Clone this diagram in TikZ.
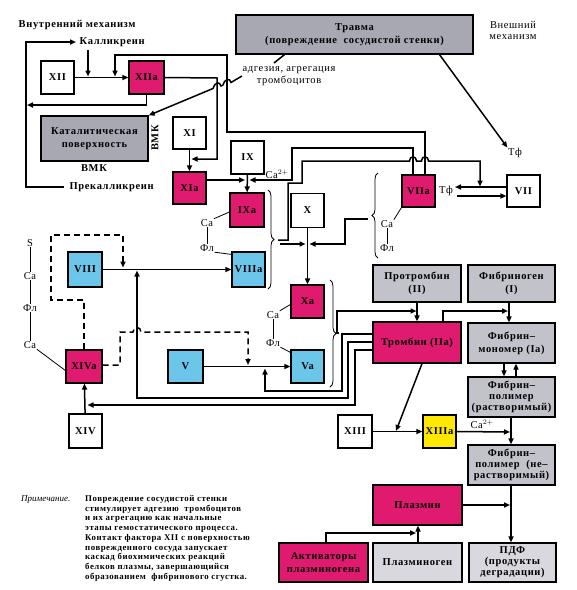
\documentclass[tikz,border=0pt]{standalone}
\usepackage{fontspec}
\setmainfont{Liberation Serif}
\newfontfamily\spaced[LetterSpace=6]{Liberation Serif}
\usetikzlibrary{arrows.meta,decorations.pathreplacing}
\definecolor{mag}{RGB}{224,26,110}
\definecolor{blu}{RGB}{108,198,234}
\definecolor{gry}{RGB}{168,168,178}
\definecolor{lgry}{RGB}{194,194,202}
\definecolor{vlgry}{RGB}{216,216,222}
\definecolor{yel}{RGB}{255,232,0}
\tikzset{
  box/.style={draw, line width=1.2pt, inner sep=1pt, align=center,
    font=\spaced\bfseries\fontsize{10.5}{11}\selectfont},
  sq/.style={box, minimum width=33pt, minimum height=33pt},
  conn/.style={line width=1.5pt},
  arr/.style={conn, -{Triangle[length=6pt,width=5pt]}},
  dsh/.style={conn, dash pattern=on 6pt off 4pt},
  darr/.style={dsh, -{Triangle[length=6pt,width=5pt]}},
  lbl/.style={font=\spaced\fontsize{10.5}{11}\selectfont, inner sep=0.5pt},
  blbl/.style={font=\spaced\bfseries\fontsize{10.5}{12}\selectfont, inner sep=0.5pt, align=center},
  leader/.style={line width=0.8pt},
  brc/.style={line width=0.8pt, decorate, decoration={brace, amplitude=6pt}}
}
\begin{document}
\begin{tikzpicture}[x=1pt,y=-1pt]
\useasboundingbox (0,0) rectangle (577,590);

% ---------- boxes ----------
\node[sq] (xii) at (57.5,77.5) {XII};
\node[sq,fill=mag,minimum width=35pt] (xiia) at (146.5,77.5) {XIIa};
\node[box,fill=gry,minimum width=107pt,minimum height=45pt,font=\spaced\bfseries\fontsize{10.5}{13}\selectfont] (cat) at (94.5,138.5) {Каталитическая\\поверхность};
\node[sq,minimum height=32pt] (xi) at (189.5,133) {XI};
\node[sq,fill=mag,minimum height=32pt] (xia) at (189.5,188) {XIa};
\node[sq] (ix) at (247.5,157.5) {IX};
\node[sq,fill=mag,minimum width=34pt,minimum height=34pt] (ixa) at (247,210) {IXa};
\node[sq,minimum height=34pt] (x) at (307.5,210.5) {X};
\node[sq,fill=mag,minimum height=32pt] (viia) at (418.5,191) {VIIa};
\node[sq,minimum height=32pt] (vii) at (523.5,191) {VII};
\node[box,fill=gry,minimum width=237pt,minimum height=39pt,font=\spaced\bfseries\fontsize{10.5}{13}\selectfont] (trauma) at (354.5,34.5) {Травма\\(повреждение\ \ сосудистой стенки)};
\node[sq,fill=blu,minimum width=34pt,minimum height=35pt] (viii) at (85,269.5) {VIII};
\node[sq,fill=blu,minimum height=35pt] (viiia) at (248.5,269.5) {VIIIa};
\node[sq,fill=mag] (xa) at (307.5,301.5) {Xa};
\node[sq,fill=mag,minimum width=36pt] (xiva) at (84,366.5) {XIVa};
\node[sq,fill=blu,minimum width=35pt] (v) at (185.5,366.5) {V};
\node[sq,fill=blu] (va) at (307.5,366.5) {Va};
\node[sq,minimum height=34pt] (xiv) at (85.5,431) {XIV};
\node[box,fill=lgry,minimum width=88pt,minimum height=37pt,font=\spaced\bfseries\fontsize{10.5}{13}\selectfont] (prot) at (417,283.5) {Протромбин\\(II)};
\node[box,fill=lgry,minimum width=87pt,minimum height=37pt,font=\spaced\bfseries\fontsize{10.5}{13}\selectfont] (fgen) at (511.5,283.5) {Фибриноген\\(I)};
\node[box,fill=mag,minimum width=88pt,minimum height=41pt] (thr) at (417,342.5) {Тромбин (IIa)};
\node[box,fill=lgry,minimum width=87pt,minimum height=40pt,font=\spaced\bfseries\fontsize{10.5}{13}\selectfont] (mono) at (511.5,343) {Фибрин–\\мономер (Ia)};
\node[box,fill=lgry,minimum width=87pt,minimum height=40pt] (poly1) at (511.5,397) {Фибрин–\\полимер\\(растворимый)};
\node[sq,minimum width=34pt] (xiii) at (355,431.5) {XIII};
\node[sq,fill=yel] (xiiia) at (439.5,431.5) {XIIIa};
\node[box,fill=lgry,minimum width=87pt,minimum height=40pt] (poly2) at (511.5,465) {Фибрин–\\полимер\ \ (не–\\растворимый)};
\node[box,fill=mag,minimum width=89pt,minimum height=40pt] (plasmin) at (417.5,505) {Плазмин};
\node[box,fill=vlgry,minimum width=87pt,minimum height=39pt] (pdf) at (512.5,562.5) {ПДФ\\(продукты\\деградации)};
\node[box,fill=vlgry,minimum width=89pt,minimum height=39pt] (plgen) at (417.5,562.5) {Плазминоген};
\node[box,fill=mag,minimum width=89pt,minimum height=39pt,font=\spaced\bfseries\fontsize{10.5}{13}\selectfont] (act) at (323.5,562.5) {Активаторы\\плазминогена};

% ---------- free labels ----------
\node[blbl,anchor=west] (intern) at (18,25) {Внутренний механизм};
\node[blbl,anchor=west] (kal) at (79,42) {Калликреин};
\node[blbl,anchor=west] (prek) at (69,187) {Прекалликреин};
\node[blbl,rotate=90] (vmk1) at (155,138) {ВМК};
\node[blbl] (vmk2) at (94,168) {ВМК};
\node[blbl,font=\spaced\fontsize{10.5}{12}\selectfont] (adh) at (289,76) {адгезия, агрегация\\тромбоцитов};
\node[blbl,font=\spaced\fontsize{10.5}{11}\selectfont] (extern) at (513,30) {Внешний\\механизм};
\node[lbl] (tf1) at (515,153) {Тф};
\node[lbl] (tf2) at (446,191) {Тф};
\node[lbl] (ca2a) at (277,174) {Ca$^{2+}$};
\node[lbl] (ca2b) at (482,424) {Ca$^{2+}$};
\node[lbl] (caVII) at (387,224) {Ca};
\node[lbl] (flVII) at (387,248) {Фл};
\node[lbl] (caIX) at (207,223) {Ca};
\node[lbl] (flIX) at (207,248) {Фл};
\node[lbl] (caX) at (273,315) {Ca};
\node[lbl] (flX) at (273,343) {Фл};
\node[lbl] (sS) at (30,243) {S};
\node[lbl] (caS1) at (30,276) {Ca};
\node[lbl] (flS) at (30,308) {Фл};
\node[lbl] (caS2) at (30,345) {Ca};

% note
\node[anchor=west,inner sep=0pt,font=\itshape\fontsize{9}{9.75}\selectfont] (notehead) at (21,500) {Примечание.};
\node[anchor=north west,inner sep=0pt,align=left,font=\spaced\bfseries\fontsize{8.8}{9.75}\selectfont] (notebody) at (85,495)
 {Повреждение сосудистой стенки\\
  стимулирует адгезию\ \ тромбоцитов\\
  и их агрегацию как начальные\\
  этапы гемостатического процесса.\\
  Контакт фактора XII с поверхностью\\
  поврежденного сосуда запускает\\
  каскад биохимических реакций\\
  белков плазмы, завершающийся\\
  образованием\ \ фибринового сгустка.};

% ---------- leaders ----------
\draw[leader] (viia.south west) -- (caVII.north east);
\draw[leader] (caVII) -- (flVII);
\draw[leader] ([yshift=-2pt]ixa.west) -- (caIX.north east);
\draw[leader] (caIX) -- (flIX);
\draw[leader] (flIX.south east) -- ([yshift=-3pt]viiia.north west);
\draw[leader] ([yshift=-3pt]xa.west) -- (caX.north east);
\draw[leader] (caX) -- (flX);
\draw[leader] (flX.south east) -- ([yshift=-3pt]va.north west);
\draw[leader] (sS) -- (caS1);
\draw[leader] (caS1) -- (flS);
\draw[leader] (flS) -- (caS2);
\draw[leader] (caS2.south east) -- ([yshift=-4pt]xiva.west);
\draw[conn] ([xshift=-70pt]trauma.south) -- (274,63);

% ---------- braces ----------
\draw[brc] (268,190) -- (268,289);
\coordinate (brIX) at (278,240);
\draw[brc] (378,258) -- (378,173);
\coordinate (brVII) at (368,219);
\draw[brc] (330,280) -- (330,387);
\coordinate (brX) at (339,333);

% ---------- intrinsic top ----------
\draw[arr] ([xshift=-5pt]prek.west) -- (26,187) -- (26,42) -- ([xshift=-3pt]kal.west);
\draw[arr] (88,50) -- (88,76.5);
\draw[arr] (xii) -- (xiia);
\draw[arr] (xiia.south) -- (146.5,105) -- (27,105);
\draw[arr] (xiia.east) -- (217,78) -- (217,159) -- (191.5,159);
\draw[arr] (xi) -- (xia);
\draw[arr] ([xshift=6.5pt]viia.north) -- (425,132) -- (227,132) -- (227,55) -- (115,55) -- (115,76.5);
\draw[conn,-{Triangle[length=6pt,width=5pt]}] (adh.west) -- (231,82.5)
   .. controls (230,77) and (224,79.5) .. (223,85)
   -- (221,86)
   .. controls (220,80.5) and (214,83) .. (213,88.5)
   -- (cat.north east);
% ---------- IX / X activation ----------
\draw[arr] (xia.east |- 0,180) -- (245,180);
\draw[arr] (ix) -- (ixa);
\draw[arr] ([xshift=-5.5pt]viia.north) -- (413,148) -- (292,148) -- (292,180) -- (249.5,180);
\draw[arr] (brIX) -- (288,240) -- (288,183) -- (302,183) -- (302,161) -- (409.5,161)
   .. controls (409.5,155.5) and (416.5,155.5) .. (416.5,161) -- (421.5,161)
   .. controls (421.5,155.5) and (428.5,155.5) .. (428.5,161) -- (480,161) -- (480,186.5);
\draw[arr] (280,244) -- (305.5,244);
\draw[arr] (brVII) -- (345,219) -- (345,244) -- (309.5,244);
\draw[arr] (x) -- (xa);
% ---------- extrinsic ----------
\draw[arr] ([xshift=85pt]trauma.south) -- (tf1.north west);
\draw[arr] (vii.west |- 0,187) -- (455,187);
\draw[arr] (457,196) -- (vii.west |- 0,196);
% ---------- VIII / V ----------
\draw[arr] (viii) -- (viiia);
\draw[darr] (xiva.north) -- (84,300) -- (51,300) -- (51,235) -- (123,235) -- (123,267.5);
\draw[darr] (xiva.east |- 0,365) -- (120,365) -- (120,332) -- (133,332)
   .. controls (133,326) and (141,326) .. (141,332) -- (248,332) -- (248,365);
\draw[arr] (v) -- (va);
\draw[arr] (xiv) -- (xiva);
% ---------- thrombin feedback ----------
\draw[arr] (thr.west |- 0,334) -- (342,334) -- (342,391) -- (265,391) -- (265,368.5);
\draw[arr] (thr.west |- 0,342) -- (348,342) -- (348,398) -- (137,398) -- (137,270.5);
\draw[arr] (thr.west |- 0,350) -- (355,350) -- (355,405) -- (87.5,405);
% ---------- thrombin / fibrin ----------
\draw[arr] (brX) -- (337,333) -- (337,311) -- (416.5,311);
\draw[arr] (prot.south) -- (thr.north);
\draw[arr] ([xshift=26pt]thr.north) -- (443,311) -- (508,311);
\draw[arr] (fgen.south -| 509,0) -- (mono.north -| 509,0);
\draw[arr] (mono.south -| 504,0) -- (poly1.north -| 504,0);
\draw[arr] (poly1.north -| 516,0) -- (mono.south -| 516,0);
\draw[arr] ([xshift=5pt]thr.south) -- (396,431);
\draw[arr] (xiii) -- (xiiia);
\draw[arr] (xiiia.east) -- (510,432);
\draw[arr] (poly1.south -| 511,0) -- (poly2.north -| 511,0);
\draw[arr] (poly2.south -| 511,0) -- (pdf.north -| 511,0);
\draw[arr] (plasmin.east) -- (510,505);
\draw[arr] (act.north -| 326,0) -- (326,533) -- (416,533);
\draw[arr] (plgen.north -| 418,0) -- (plasmin.south -| 418,0);
\end{tikzpicture}
\end{document}
